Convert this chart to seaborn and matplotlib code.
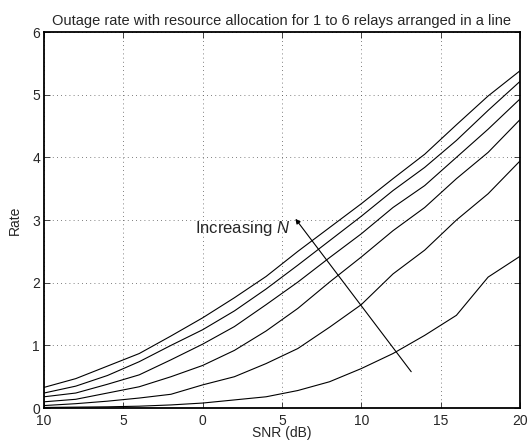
import pandas as pd
import matplotlib
matplotlib.use("Agg")
import matplotlib.pyplot as plt
import seaborn as sns

# SNR grid (dB)
snr = [-10, -8, -6, -4, -2, 0, 2, 4, 6, 8, 10, 12, 14, 16, 18, 20]

# rate per number of relays
rate_n1 = [0.01, 0.015, 0.02, 0.03, 0.05, 0.08, 0.13, 0.18, 0.28, 0.42, 0.63, 0.87, 1.16, 1.48, 2.09, 2.42]
rate_n2 = [0.04, 0.07, 0.11, 0.16, 0.22, 0.37, 0.50, 0.71, 0.95, 1.29, 1.65, 2.14, 2.52, 3.00, 3.42, 3.94]
rate_n3 = [0.10, 0.14, 0.24, 0.34, 0.50, 0.68, 0.92, 1.23, 1.59, 2.01, 2.41, 2.83, 3.20, 3.66, 4.08, 4.60]
rate_n4 = [0.18, 0.24, 0.38, 0.53, 0.77, 1.02, 1.30, 1.65, 2.01, 2.40, 2.78, 3.20, 3.55, 4.00, 4.45, 4.93]
rate_n5 = [0.24, 0.35, 0.52, 0.74, 1.00, 1.25, 1.55, 1.90, 2.28, 2.67, 3.06, 3.47, 3.84, 4.27, 4.75, 5.21]
rate_n6 = [0.33, 0.47, 0.67, 0.87, 1.15, 1.44, 1.76, 2.10, 2.50, 2.88, 3.26, 3.66, 4.05, 4.52, 4.98, 5.38]

xtick_vals = [-10, -5, 0, 5, 10, 15, 20]
xtick_labels = ["10", "5", "0", "5", "10", "15", "20"]

rows = []
for n, vals in enumerate([rate_n1, rate_n2, rate_n3, rate_n4, rate_n5, rate_n6], start=1):
    for s, r in zip(snr, vals):
        rows.append({"snr": s, "rate": r, "N": n})
df = pd.DataFrame(rows)

sns.set_style("ticks")
plt.rcParams["font.family"] = ["Liberation Sans", "DejaVu Sans"]
plt.rcParams["mathtext.fontset"] = "custom"
plt.rcParams["mathtext.it"] = "Liberation Sans:italic"

fig = plt.figure(figsize=(5.31, 4.45), dpi=100)
ax = fig.add_axes([0.083, 0.083, 0.896, 0.845])

sns.lineplot(data=df, x="snr", y="rate", hue="N", palette=["black"] * 6,
             linewidth=0.8, legend=False, ax=ax)

ax.set_xlim(-10, 20)
ax.set_ylim(0, 6)
ax.set_xticks(xtick_vals)
ax.set_xticklabels(xtick_labels)
ax.set_yticks(range(7))
ax.grid(True, linestyle=(0, (1, 4)), color="#555555", linewidth=0.6)
ax.tick_params(direction="in", top=True, right=True, labelsize=10, length=4, width=0.6)
ax.tick_params(axis="x", pad=4)
ax.tick_params(axis="y", pad=3)
for sp in ax.spines.values():
    sp.set_linewidth(1.3)
    sp.set_color("black")

ax.set_title("Outage rate with resource allocation for 1 to 6 relays arranged in a line",
             fontsize=10.5, pad=5)
ax.set_xlabel("SNR (dB)", fontsize=10, labelpad=-1)
ax.set_ylabel("Rate", fontsize=10, labelpad=7)

# arrow pointing towards increasing number of relays
ax.annotate("", xy=(5.85, 3.02), xytext=(13.15, 0.58),
            arrowprops=dict(arrowstyle="-|>", color="black", lw=0.8,
                            mutation_scale=7, shrinkA=0, shrinkB=0))
ax.text(5.5, 2.87, "Increasing $N$", ha="right", va="center", fontsize=12)

fig.savefig("out.png", dpi=100)
